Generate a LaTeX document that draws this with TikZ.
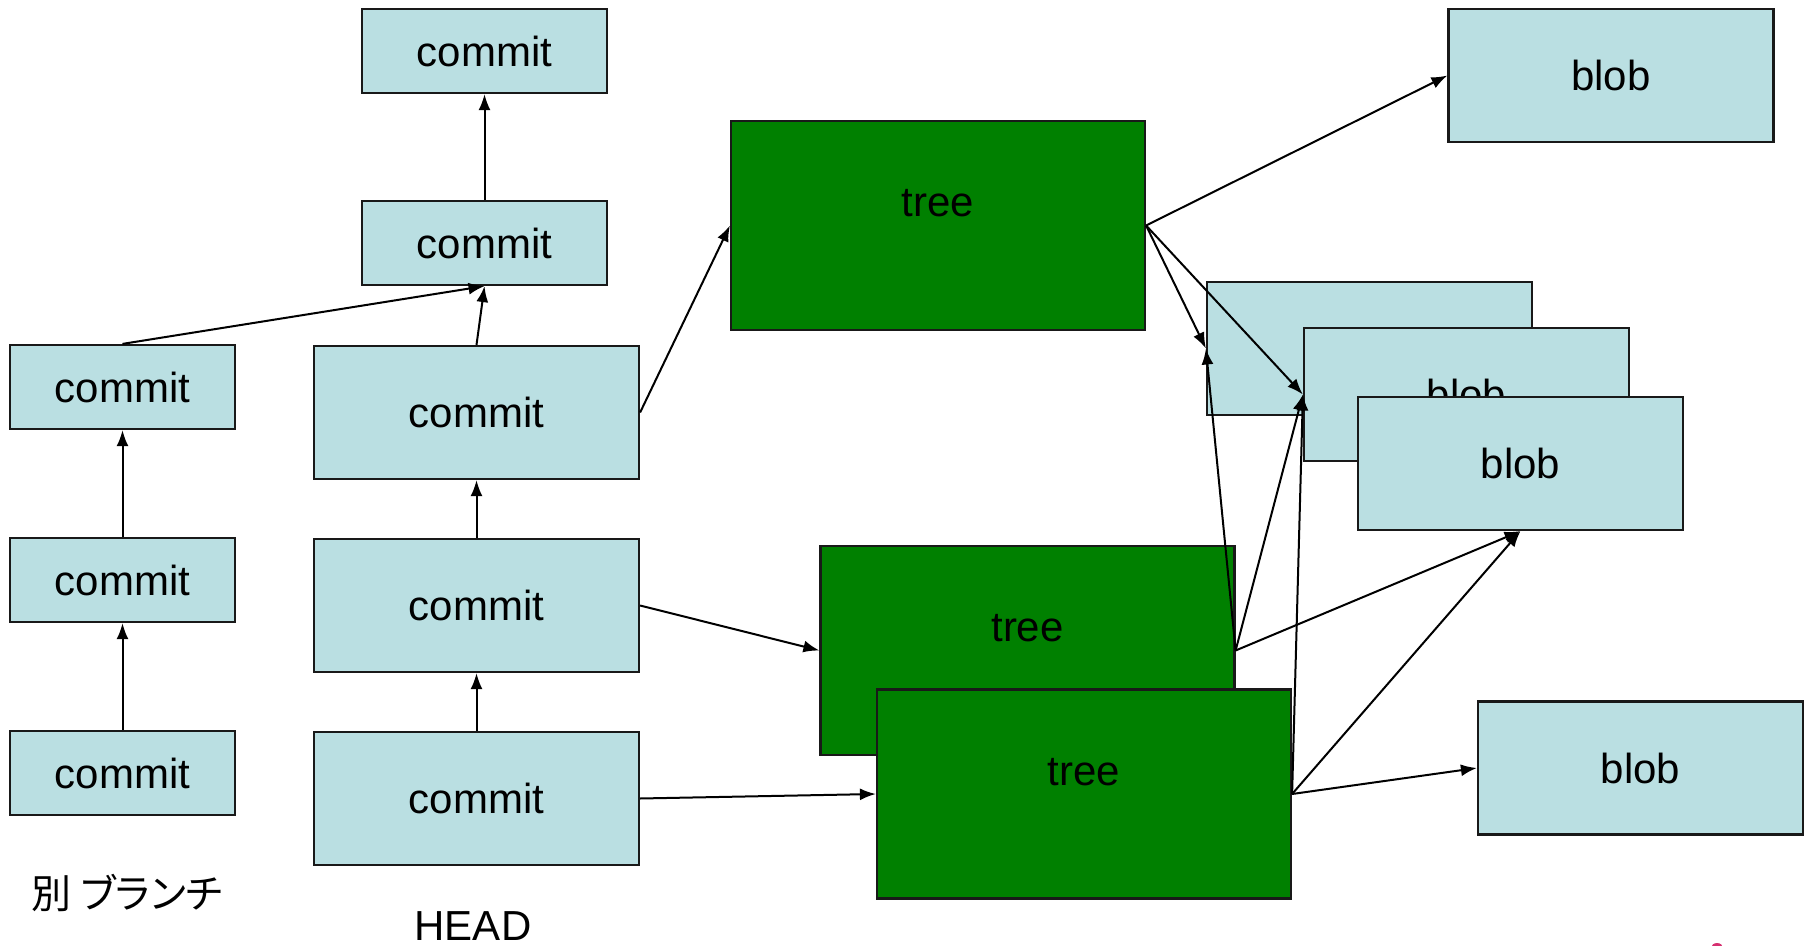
\documentclass[tikz,border=0pt]{standalone}
\usepackage{fontspec}
\setmainfont{Liberation Sans}
\newfontfamily\jpfont[RawFeature=+palt]{Noto Sans CJK JP}
\usetikzlibrary{arrows.meta}
\definecolor{boxblue}{RGB}{186,223,226}
\definecolor{treegreen}{RGB}{0,128,0}
\definecolor{markpink}{RGB}{214,48,112}
\tikzset{
  obj/.style={draw=black!90, line width=1.1pt, inner sep=0pt, font=\fontsize{21}{25}\selectfont},
  cbox/.style={obj, fill=boxblue, minimum width=122.5pt, minimum height=42pt},
  lbox/.style={obj, fill=boxblue, minimum width=112.5pt, minimum height=42pt},
  hbox/.style={obj, fill=boxblue, minimum width=162.5pt, minimum height=66.5pt},
  blobbox/.style={obj, fill=boxblue, minimum width=162.5pt, minimum height=66.5pt},
  treebox/.style={obj, fill=treegreen, minimum width=207pt, minimum height=104.5pt},
  treetext/.style={label={[yshift=11pt, font=\fontsize{21}{25}\selectfont]center:tree}},
  arr/.style={-{Latex[length=8pt,width=6pt]}, line width=1pt, black},
  caption/.style={inner sep=0pt, font=\fontsize{21}{25}\selectfont}
}
\begin{document}
\begin{tikzpicture}[x=0.5pt, y=-0.5pt]
\useasboundingbox (0,0) rectangle (1804,946);

% commits on the other branch
\node[lbox] (lA) at (122.5,387) {commit};
\node[lbox] (lB) at (122.5,580) {commit};
\node[lbox] (lC) at (122.5,773) {commit};

% main line of commits
\node[cbox] (c1) at (484.5,51) {commit};
\node[cbox] (c2) at (484.5,243) {commit};
\node[hbox] (h1) at (476.5,412.5) {commit};
\node[hbox] (h2) at (476.5,605.5) {commit};
\node[hbox] (h3) at (476.5,798.5) {commit};

% trees
\node[treebox, treetext] (t1) at (938,225.5) {};
\node[treebox, treetext] (t2) at (1027.5,650.5) {};
\node[treebox, treetext] (t3) at (1084,794) {};

% blobs
\node[blobbox] (bt) at (1611,75.5) {blob};
\node[blobbox] (b1) at (1369.5,348.5) {blob};
\node[blobbox] (b2) at (1466.5,394.5) {blob};
\node[blobbox] (b3) at (1520.5,463.5) {blob};
\node[blobbox] (bb) at (1640.5,768) {blob};

% labels
\node[caption, font=\jpfont\fontsize{20}{24}\selectfont] (other) at (127,893) {別 ブランチ};
\node[caption] (head) at (473,926) {HEAD};

% parent links
\draw[arr] (c2.north) -- (c1.south);
\draw[arr] (lA.north) -- (c2.south);
\draw[arr] (h1.north) -- (c2.south);
\draw[arr] (lB.north) -- (lA.south);
\draw[arr] (lC.north) -- (lB.south);
\draw[arr] (h2.north) -- (h1.south);
\draw[arr] (h3.north) -- (h2.south);

% commit to tree
\draw[arr] (h1.east) -- (t1.west);
\draw[arr] (h2.east) -- (t2.west);
\draw[arr] (h3.east) -- (t3.west);

% tree to blob
\draw[arr] (t1.east) -- (bt.west);
\draw[arr] (t1.east) -- (b1.west);
\draw[arr] (t1.east) -- (b2.west);
\draw[arr] (t2.east) -- (b1.west);
\draw[arr] (t2.east) -- (b2.west);
\draw[arr] (t2.east) -- (b3.south);
\draw[arr] (t3.east) -- (b2.west);
\draw[arr] (t3.east) -- (b3.south);
\draw[arr] (t3.east) -- (bb.west);

% small mark at the lower edge
\fill[markpink] (1717,948) ellipse (6 and 5);
\end{tikzpicture}
\end{document}
